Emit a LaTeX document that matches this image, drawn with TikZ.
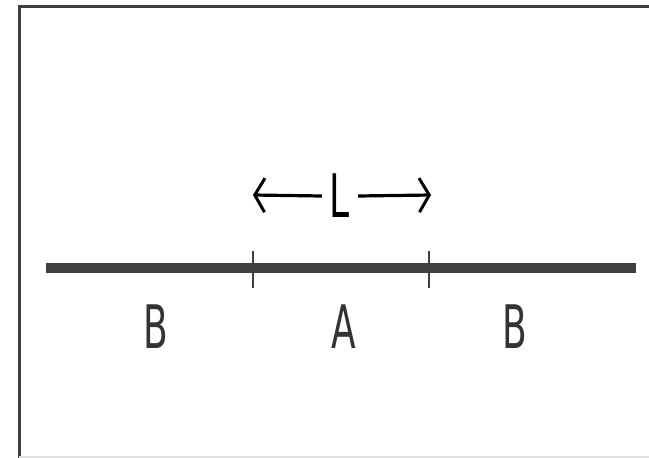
\documentclass[tikz,border=0pt]{standalone}
\usepackage{fontspec}
\setmainfont{DejaVu Sans}
\usetikzlibrary{arrows.meta}

\begin{document}
\begin{tikzpicture}[
    x=1pt, y=-1pt,
    frame/.style={draw=black!75, line width=3pt},
    rodline/.style={draw=black!75, line width=10pt},
    tickmark/.style={draw=black!75, line width=1.1pt},
    dimarr/.style={-{Straight Barb[length=10pt, width=34pt, line width=3pt]},
                   line width=3.2pt, black},
    seglbl/.style={font=\fontsize{60}{60}\selectfont, text=black!80,
                   xscale=0.6, transform shape, inner sep=0pt},
  ]
    \useasboundingbox (0,0) rectangle (649,458);

    % frame
    \draw[frame] (19,458) -- (19,6) -- (649,6);
    \draw[black!12, line width=1.5pt] (19,457) -- (649,457);

    % rod
    \coordinate (rodW) at (46,268);
    \coordinate (rodE) at (636,268);
    \draw[rodline] (rodW) -- (rodE);

    % segment boundaries
    \coordinate (tickLt) at (253,251);
    \coordinate (tickLb) at (253,288);
    \coordinate (tickRt) at (429,251);
    \coordinate (tickRb) at (429,288);
    \draw[tickmark] (tickLt) -- (tickLb);
    \draw[tickmark] (tickRt) -- (tickRb);

    % length marker
    \node[seglbl, text=black] (len) at (340,196) {L};
    \coordinate (lenW) at (253,195);
    \coordinate (lenE) at (431,195);
    \draw[dimarr] ([xshift=-8pt]len.west) -- (lenW);
    \draw[dimarr] ([xshift=8pt]len.east) -- (lenE);

    % segment labels
    \node[seglbl] (segB1) at (156,327) {B};
    \node[seglbl] (segA) at (344,327) {A};
    \node[seglbl] (segB2) at (515,327) {B};
\end{tikzpicture}
\end{document}
